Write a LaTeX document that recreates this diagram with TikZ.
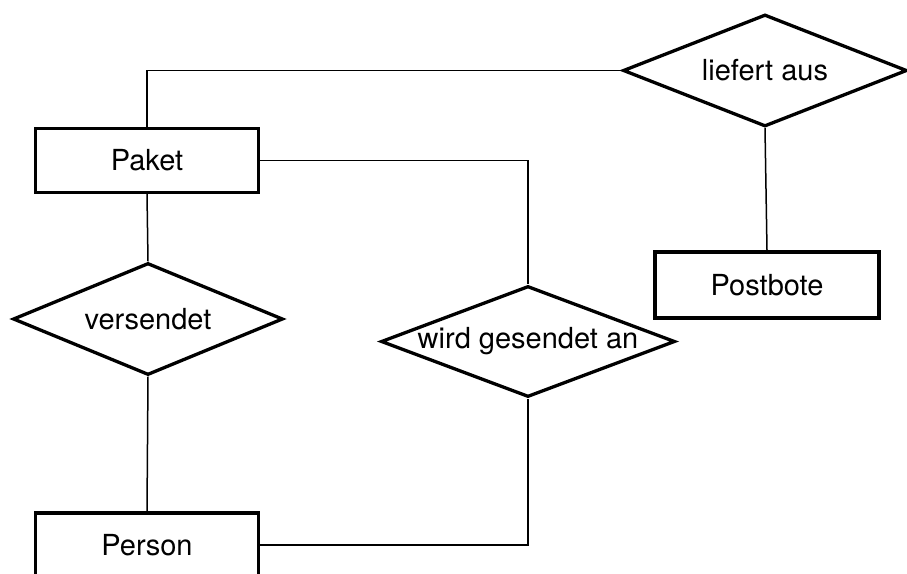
\documentclass[tikz,border=0pt]{standalone}
\usepackage{fontspec}
\setmainfont{TeX Gyre Heros}
\usetikzlibrary{shapes.geometric}
\tikzset{
  entity/.style={draw, line width=3.3pt, fill=white, inner sep=0pt, font=\fontsize{29}{34}\selectfont},
  relation/.style={draw, diamond, line width=3.3pt, fill=white, inner sep=0pt, font=\fontsize{29}{34}\selectfont},
  conn/.style={line width=1.5pt}
}
\begin{document}
\begin{tikzpicture}[x=1pt,y=-1pt]
\useasboundingbox (0,0) rectangle (907,573);
\clip (0,0) rectangle (907,573);
\node[entity, minimum width=223pt, minimum height=64pt] (paket) at (147,160.5) {Paket};
\node[entity, minimum width=223pt, minimum height=64pt] (person) at (147,545) {Person};
\node[entity, minimum width=224pt, minimum height=66pt] (postbote) at (767,285) {Postbote};
\node[relation, aspect=2.4, minimum width=270pt, minimum height=112pt] (versendet) at (148,319) {versendet};
\node[relation, aspect=2.65, minimum width=294pt, minimum height=111pt] (wird) at (528,341.5) {wird gesendet an};
\node[relation, aspect=2.5, minimum width=284pt, minimum height=112pt] (liefert) at (765,70.5) {liefert aus};
\draw[conn] (paket.north) |- (liefert.west);
\draw[conn] (paket.east) -| (wird.north);
\draw[conn] (paket.south) -- (versendet.north);
\draw[conn] (versendet.south) -- (person.north);
\draw[conn] (person.east) -| (wird.south);
\draw[conn] (liefert.south) -- (postbote.north);
\end{tikzpicture}
\end{document}
